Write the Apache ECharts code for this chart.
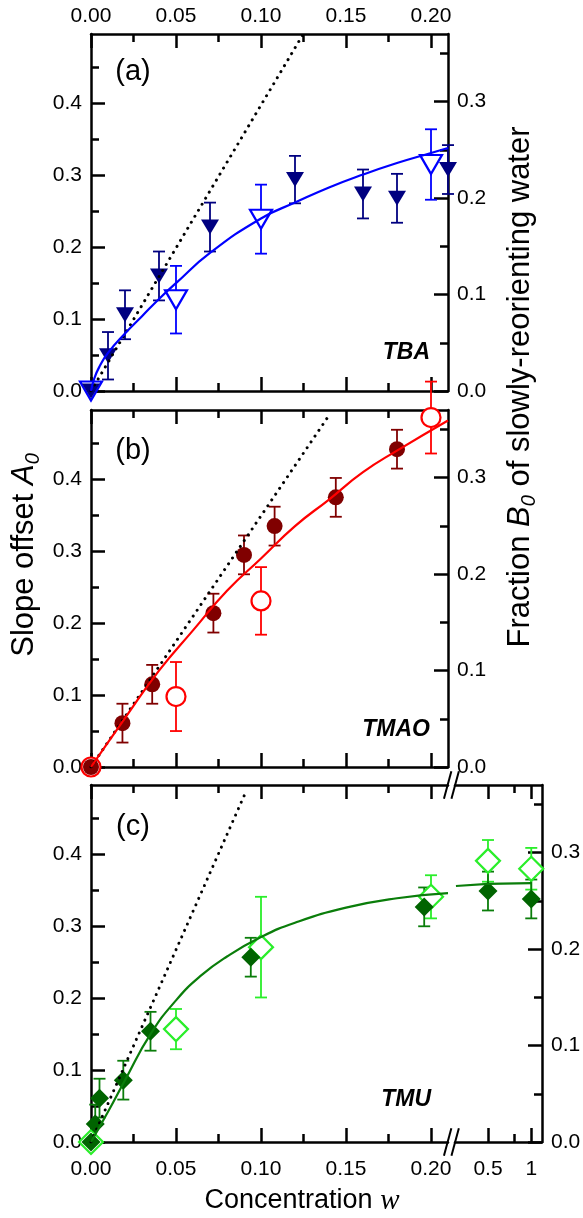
<!DOCTYPE html>
<html>
<head>
<meta charset="utf-8">
<script src="https://cdn.jsdelivr.net/npm/echarts@6/dist/echarts.min.js"></script>
</head>
<body style="margin:0;background:#fff">
<div id="container" style="width:583px;height:1218px"></div>
<script>
// ---- values ----
// panel (a) TBA
var tbaFilledX = [0, 0.01, 0.02, 0.04, 0.07, 0.12, 0.16, 0.18, 0.21];
var tbaFilledY = [0, 0.049, 0.106, 0.160, 0.228, 0.294, 0.274, 0.268, 0.308];
var tbaFilledErr = [0, 0.033, 0.034, 0.034, 0.034, 0.033, 0.034, 0.034, 0.034];
var tbaOpenX = [0, 0.05, 0.10, 0.20];
var tbaOpenY = [0, 0.127, 0.239, 0.315];
var tbaOpenErr = [0, 0.047, 0.048, 0.049];
var tbaFitX = [0, 0.002, 0.005, 0.01, 0.02, 0.03, 0.04, 0.05, 0.07, 0.10, 0.12, 0.14, 0.16, 0.18, 0.20, 0.21];
var tbaFitY = [0, 0.018, 0.034, 0.053, 0.080, 0.104, 0.128, 0.150, 0.192, 0.240, 0.262, 0.283, 0.301, 0.317, 0.331, 0.338];
var tbaDotX = [0, 0.125];
var tbaDotY = [0, 0.497];

// panel (b) TMAO
var tmaoFilledX = [0, 0.0185, 0.036, 0.072, 0.09, 0.108, 0.144, 0.18];
var tmaoFilledY = [0, 0.061, 0.115, 0.214, 0.295, 0.335, 0.375, 0.442];
var tmaoFilledErr = [0, 0.027, 0.027, 0.027, 0.027, 0.027, 0.027, 0.027];
var tmaoOpenX = [0, 0.05, 0.10, 0.20];
var tmaoOpenY = [0, 0.098, 0.231, 0.486];
var tmaoOpenErr = [0, 0.048, 0.047, 0.05];
var tmaoFitX = [0, 0.02, 0.04, 0.06, 0.08, 0.10, 0.12, 0.14, 0.16, 0.18, 0.21];
var tmaoFitY = [0, 0.068, 0.134, 0.190, 0.245, 0.290, 0.335, 0.372, 0.410, 0.440, 0.482];
var tmaoDotX = [0, 0.140];
var tmaoDotY = [0, 0.489];

// panel (c) TMU, left part (w <= 0.21)
var tmuFilledX = [0, 0.0025, 0.005, 0.019, 0.035, 0.094, 0.196];
var tmuFilledY = [0, 0.025, 0.061, 0.086, 0.154, 0.257, 0.327];
var tmuFilledErr = [0, 0.027, 0.027, 0.027, 0.027, 0.027, 0.027];
var tmuOpenX = [0, 0.05, 0.10, 0.20];
var tmuOpenY = [0, 0.157, 0.271, 0.341];
var tmuOpenErr = [0, 0.028, 0.07, 0.03];
var tmuFitX = [0, 0.01, 0.02, 0.035, 0.05, 0.065, 0.08, 0.10, 0.12, 0.15, 0.18, 0.21];
var tmuFitY = [0, 0.042, 0.086, 0.150, 0.197, 0.232, 0.258, 0.285, 0.305, 0.326, 0.339, 0.346];
var tmuDotX = [0, 0.0909];
var tmuDotY = [0, 0.486];
// panel (c) TMU, right part after the axis break
var tmuFilledX2 = [0.5, 1];
var tmuFilledY2 = [0.349, 0.338];
var tmuFilledErr2 = [0.027, 0.027];
var tmuOpenX2 = [0.5, 1];
var tmuOpenY2 = [0.391, 0.380];
var tmuOpenErr2 = [0.029, 0.029];
var tmuFitX2 = [0.13, 0.5, 1.0];
var tmuFitY2 = [0.356, 0.359, 0.360];

// ticks
var xMajor = [0, 0.05, 0.1, 0.15, 0.2];
var xMinor = [0.025, 0.075, 0.125, 0.175];
var x2Major = [0.5, 1];
var x2Minor = [0.8];
var leftMajor = [0, 0.1, 0.2, 0.3, 0.4];
var leftMinor = [0.05, 0.15, 0.25, 0.35, 0.45];
var rightMajor = [0, 0.1, 0.2, 0.3];
var rightMinor = [0.05, 0.15, 0.25, 0.35];

var LMAX = 0.4965, RMAX = 0.37;
var XMAX = 0.21, X2MIN = 0.119, X2MAX = 1.124;

// ---- layout ----
var FONT = "'Liberation Sans', Arial, sans-serif";
var G = [
  {left: 91, top: 34, width: 357, height: 357},
  {left: 91, top: 410, width: 357, height: 357},
  {left: 91, top: 785, width: 357, height: 357},
  {left: 455, top: 785, width: 87, height: 357}
];
var LINE = {color: '#000', width: 2.5};

function rows(xs, ys, es) {
  return xs.map(function (x, i) { return es ? [x, ys[i], es[i]] : [x, ys[i]]; });
}

function ax(grid, pos, min, max, ticks, len, showLine, fmt, margin) {
  return {
    type: 'value', gridIndex: grid, position: pos, min: min, max: max,
    axisLine: {show: showLine, onZero: false, lineStyle: LINE},
    axisTick: {show: ticks.length > 0, inside: true, length: len, customValues: ticks, lineStyle: LINE},
    axisLabel: fmt ? {show: true, customValues: ticks, formatter: fmt, margin: margin,
      fontSize: 21, color: '#000', fontFamily: FONT} : {show: false},
    splitLine: {show: false}
  };
}
var f2 = function (v) { return v.toFixed(2); };
var f1 = function (v) { return v.toFixed(1); };
var fc = function (v) { return v === 1 ? '1' : String(v); };

var xAxes = [], yAxes = [];
// grid 0 (a): x 0-3, y 0-3
xAxes.push(ax(0, 'bottom', 0, XMAX, xMajor, 14, true));
xAxes.push(ax(0, 'bottom', 0, XMAX, xMinor, 8, false));
xAxes.push(ax(0, 'top', 0, XMAX, xMajor, 14, true, f2, 7));
xAxes.push(ax(0, 'top', 0, XMAX, xMinor, 8, false));
yAxes.push(ax(0, 'left', 0, LMAX, leftMajor, 14, true, f1, 9));
yAxes.push(ax(0, 'left', 0, LMAX, leftMinor, 8, false));
yAxes.push(ax(0, 'right', 0, RMAX, rightMajor, 14, true, f1, 9));
yAxes.push(ax(0, 'right', 0, RMAX, rightMinor, 8, false));
// grid 1 (b): x 4-7, y 4-7
xAxes.push(ax(1, 'bottom', 0, XMAX, xMajor, 14, true));
xAxes.push(ax(1, 'bottom', 0, XMAX, xMinor, 8, false));
xAxes.push(ax(1, 'top', 0, XMAX, xMajor, 14, true));
xAxes.push(ax(1, 'top', 0, XMAX, xMinor, 8, false));
yAxes.push(ax(1, 'left', 0, LMAX, leftMajor, 14, true, f1, 9));
yAxes.push(ax(1, 'left', 0, LMAX, leftMinor, 8, false));
yAxes.push(ax(1, 'right', 0, RMAX, rightMajor, 14, true, f1, 9));
yAxes.push(ax(1, 'right', 0, RMAX, rightMinor, 8, false));
// grid 2 (c left): x 8-11, y 8-9
xAxes.push(ax(2, 'bottom', 0, XMAX, xMajor, 14, true, f2, 17));
xAxes.push(ax(2, 'bottom', 0, XMAX, xMinor, 8, false));
xAxes.push(ax(2, 'top', 0, XMAX, xMajor, 14, true));
xAxes.push(ax(2, 'top', 0, XMAX, xMinor, 8, false));
yAxes.push(ax(2, 'left', 0, LMAX, leftMajor, 14, true, f1, 9));
yAxes.push(ax(2, 'left', 0, LMAX, leftMinor, 8, false));
// grid 3 (c right): x 12-15, y 10-12
xAxes.push(ax(3, 'bottom', X2MIN, X2MAX, x2Major, 14, true, fc, 17));
xAxes.push(ax(3, 'bottom', X2MIN, X2MAX, x2Minor, 8, false));
xAxes.push(ax(3, 'top', X2MIN, X2MAX, x2Major, 14, true));
xAxes.push(ax(3, 'top', X2MIN, X2MAX, x2Minor, 8, false));
yAxes.push(ax(3, 'left', 0, LMAX, [], 8, false));
yAxes.push(ax(3, 'right', 0, RMAX, rightMajor, 14, true, f1, 9));
yAxes.push(ax(3, 'right', 0, RMAX, rightMinor, 8, false));

// ---- series helpers ----
function errItem(params, api) {
  var x = api.value(0), y = api.value(1), e = api.value(2);
  if (!e) return null;
  var hi = api.coord([x, y + e]), lo = api.coord([x, y - e]);
  var st = {stroke: api.visual('color'), lineWidth: 1.8};
  var w = 6;
  return {type: 'group', children: [
    {type: 'line', shape: {x1: hi[0], y1: hi[1], x2: lo[0], y2: lo[1]}, style: st},
    {type: 'line', shape: {x1: hi[0] - w, y1: hi[1], x2: hi[0] + w, y2: hi[1]}, style: st},
    {type: 'line', shape: {x1: lo[0] - w, y1: lo[1], x2: lo[0] + w, y2: lo[1]}, style: st}
  ]};
}
function errS(xi, yi, data, color) {
  return {type: 'custom', xAxisIndex: xi, yAxisIndex: yi, data: data, renderItem: errItem,
    itemStyle: {color: color}, clip: false, silent: true, encode: {x: 0, y: 1}};
}
function markS(xi, yi, data, symbol, size, rot, fill, stroke) {
  return {type: 'scatter', xAxisIndex: xi, yAxisIndex: yi, data: data, symbol: symbol,
    symbolSize: size, symbolRotate: rot, silent: true, clip: false,
    itemStyle: {color: fill, borderColor: stroke, borderWidth: fill === '#fff' ? 2.2 : 0, opacity: 1}};
}
function lineS(xi, yi, data, color, dotted) {
  return {type: 'line', xAxisIndex: xi, yAxisIndex: yi, data: data, showSymbol: false,
    smooth: !dotted, silent: true,
    lineStyle: dotted ? {color: '#000', width: 3, type: [0.01, 7], cap: 'round'} : {color: color, width: 2.2}};
}

var NAVY = '#000080', BLUE = '#0000ff', DRED = '#800000', RED = '#ff0000',
    DGREEN = '#006400', GREEN = '#0a7d0a', LIME = '#2aee2a';

var series = [
  // (a)
  lineS(0, 0, rows(tbaDotX, tbaDotY), '#000', true),
  lineS(0, 0, rows(tbaFitX, tbaFitY), BLUE),
  errS(0, 0, rows(tbaOpenX, tbaOpenY, tbaOpenErr), BLUE),
  errS(0, 0, rows(tbaFilledX, tbaFilledY, tbaFilledErr), NAVY),
  markS(0, 0, rows(tbaOpenX, tbaOpenY), 'triangle', [22, 19], 180, '#fff', BLUE),
  markS(0, 0, rows(tbaFilledX, tbaFilledY), 'triangle', [18, 15], 180, NAVY),
  // (b)
  lineS(4, 4, rows(tmaoDotX, tmaoDotY), '#000', true),
  lineS(4, 4, rows(tmaoFitX, tmaoFitY), RED),
  errS(4, 4, rows(tmaoOpenX, tmaoOpenY, tmaoOpenErr), RED),
  errS(4, 4, rows(tmaoFilledX, tmaoFilledY, tmaoFilledErr), DRED),
  markS(4, 4, rows(tmaoOpenX, tmaoOpenY), 'circle', 19, 0, '#fff', RED),
  markS(4, 4, rows(tmaoFilledX, tmaoFilledY), 'circle', 16, 0, DRED),
  // (c) left
  lineS(8, 8, rows(tmuDotX, tmuDotY), '#000', true),
  lineS(8, 8, rows(tmuFitX, tmuFitY), GREEN),
  errS(8, 8, rows(tmuOpenX, tmuOpenY, tmuOpenErr), LIME),
  errS(8, 8, rows(tmuFilledX, tmuFilledY, tmuFilledErr), GREEN),
  markS(8, 8, rows(tmuOpenX, tmuOpenY), 'diamond', 24, 0, '#fff', LIME),
  markS(8, 8, rows(tmuFilledX, tmuFilledY), 'diamond', 19, 0, DGREEN),
  // (c) right
  lineS(12, 10, rows(tmuFitX2, tmuFitY2), GREEN),
  errS(12, 10, rows(tmuOpenX2, tmuOpenY2, tmuOpenErr2), LIME),
  errS(12, 10, rows(tmuFilledX2, tmuFilledY2, tmuFilledErr2), GREEN),
  markS(12, 10, rows(tmuOpenX2, tmuOpenY2), 'diamond', 24, 0, '#fff', LIME),
  markS(12, 10, rows(tmuFilledX2, tmuFilledY2), 'diamond', 19, 0, DGREEN)
];
// straight segment in the broken part
series[18].smooth = false;

// ---- decorations ----
function brk(y) {
  var xb = 451.4, dx = 3.7, dy = 13.8, st = {stroke: '#000', lineWidth: 2};
  return [
    {type: 'line', shape: {x1: xb - 3.75 - dx, y1: y + dy, x2: xb - 3.75 + dx, y2: y - dy}, style: st},
    {type: 'line', shape: {x1: xb + 3.75 - dx, y1: y + dy, x2: xb + 3.75 + dx, y2: y - dy}, style: st}
  ];
}
function txt(x, y, text, font, align, va) {
  return {type: 'text', x: x, y: y, silent: true,
    style: {text: text, font: font, fill: '#000', align: align, verticalAlign: va}};
}
var TITLE = 31;
function titleRich() {
  return {
    n: {fontSize: TITLE, fontFamily: FONT, lineHeight: 38},
    i: {fontSize: TITLE, fontFamily: FONT, fontStyle: 'italic', lineHeight: 38},
    s: {fontSize: 20, fontFamily: FONT, fontStyle: 'italic', lineHeight: 20, verticalAlign: 'bottom'}
  };
}
var graphic = [].concat(
  brk(785), brk(1142),
  [
    txt(133, 72, '(a)', '29px ' + FONT, 'center', 'middle'),
    txt(133, 451, '(b)', '29px ' + FONT, 'center', 'middle'),
    txt(133, 827, '(c)', '29px ' + FONT, 'center', 'middle'),
    txt(430, 364, 'TBA', 'italic bold 23px ' + FONT, 'right', 'bottom'),
    txt(430, 741, 'TMAO', 'italic bold 23px ' + FONT, 'right', 'bottom'),
    txt(431, 1111, 'TMU', 'italic bold 23px ' + FONT, 'right', 'bottom'),
    {type: 'text', x: 24, y: 555, rotation: Math.PI / 2, silent: true,
      style: {text: '{n|Slope offset }{i|A}{s|0}', align: 'center', verticalAlign: 'middle', fill: '#000',
        rich: titleRich()}},
    {type: 'text', x: 520, y: 387, rotation: Math.PI / 2, silent: true,
      style: {text: '{n|Fraction }{i|B}{s|0}{n| of slowly-reorienting water}', align: 'center', verticalAlign: 'middle', fill: '#000',
        rich: titleRich()}},
    {type: 'text', x: 302, y: 1201, silent: true,
      style: {text: '{n|Concentration }{w|w}', align: 'center', verticalAlign: 'middle', fill: '#000',
        rich: {
          n: {fontSize: 27, fontFamily: FONT, lineHeight: 32},
          w: {fontSize: 29, fontFamily: "'Liberation Serif', 'Times New Roman', serif", fontStyle: 'italic', lineHeight: 32}
        }}}
  ]
);

var chart = echarts.init(document.getElementById('container'));
var option = {
  animation: false,
  backgroundColor: '#fff',
  grid: G.map(function (g) { return Object.assign({containLabel: false, outerBoundsMode: 'none'}, g); }),
  xAxis: xAxes,
  yAxis: yAxes,
  series: series,
  graphic: graphic
};
chart.setOption(option);
</script>
</body>
</html>
